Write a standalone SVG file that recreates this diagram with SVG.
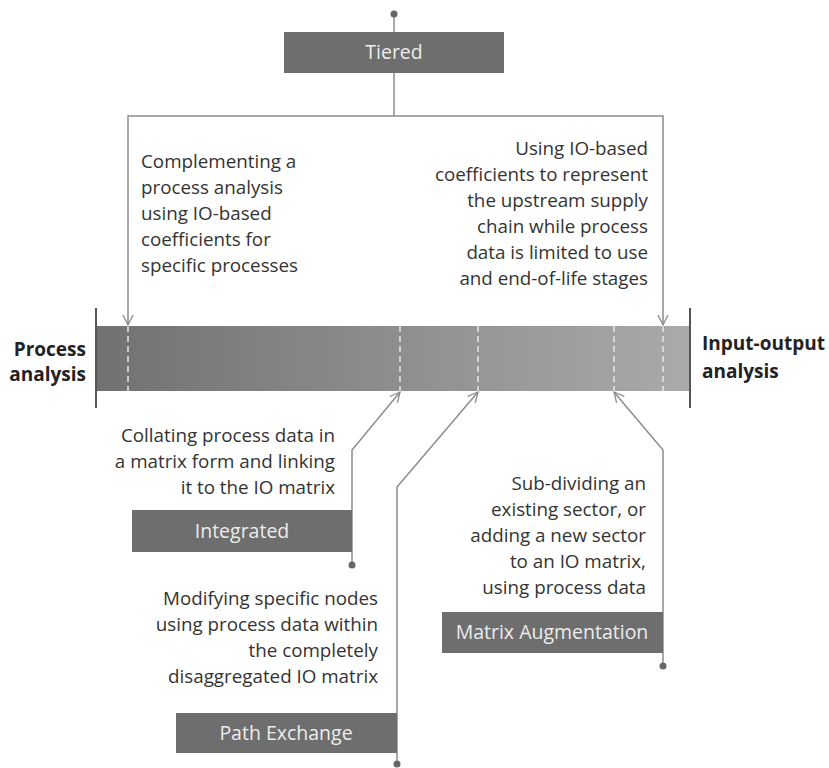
<svg xmlns="http://www.w3.org/2000/svg" width="829" height="768" viewBox="0 0 829 768">
<defs>
<linearGradient id="barg" x1="0" y1="0" x2="1" y2="0">
<stop offset="0" stop-color="#717171"/>
<stop offset="1" stop-color="#aaaaaa"/>
</linearGradient>
<marker id="ah" viewBox="0 0 12 12" refX="11" refY="6" markerWidth="12" markerHeight="12" markerUnits="userSpaceOnUse" orient="auto">
<path d="M1,1 L11,6 L1,11" fill="none" stroke="#8c8c8c" stroke-width="1.3"/>
</marker>
<style>
.conn{fill:none;stroke:#8c8c8c;stroke-width:1.5}
.dot{fill:#666}
.box{fill:#6e6e6e}
.lbl{font-family:"Open Sans","Liberation Sans",sans-serif;font-size:19.5px;fill:#ececec;text-anchor:middle}
.desc{font-family:"Open Sans","Liberation Sans",sans-serif;font-size:18.8px;fill:#333}
.end{text-anchor:end}
.big{font-family:"Open Sans","Liberation Sans",sans-serif;font-size:19px;font-weight:bold;fill:#222}
.dash{stroke:#e6e6e6;stroke-width:1.5;stroke-dasharray:6,4}
.edge{stroke:#555;stroke-width:2}
</style>
</defs>
<rect width="829" height="768" fill="#fff"/>
<g id="bar">
<rect x="96" y="326" width="594" height="65" fill="url(#barg)"/>
<line class="dash" x1="128" y1="326" x2="128" y2="391"/>
<line class="dash" x1="400" y1="326" x2="400" y2="391"/>
<line class="dash" x1="478" y1="326" x2="478" y2="391"/>
<line class="dash" x1="614" y1="326" x2="614" y2="391"/>
<line class="dash" x1="663" y1="326" x2="663" y2="391"/>
<line class="edge" x1="96" y1="308" x2="96" y2="408"/>
<line class="edge" x1="690" y1="308" x2="690" y2="408"/>
</g>
<g id="connectors">
<line class="conn" x1="394" y1="14" x2="394" y2="116"/>
<polyline class="conn" points="394,116 128,116 128,325" marker-end="url(#ah)"/>
<polyline class="conn" points="394,116 663,116 663,325" marker-end="url(#ah)"/>
<polyline class="conn" points="352,565 352,450 400,392" marker-end="url(#ah)"/>
<polyline class="conn" points="397,762 397,487 478,392" marker-end="url(#ah)"/>
<polyline class="conn" points="663,666 663,450 614,392" marker-end="url(#ah)"/>
<circle class="dot" cx="394" cy="14" r="3.5"/>
<circle class="dot" cx="352" cy="565" r="3.5"/>
<circle class="dot" cx="397" cy="764" r="3.5"/>
<circle class="dot" cx="663" cy="666" r="3.5"/>
</g>
<g id="process-analysis">
<text class="big end" x="86" y="356">Process</text>
<text class="big end" x="86" y="381">analysis</text>
</g>
<g id="io-analysis">
<text class="big" x="702" y="350">Input-output</text>
<text class="big" x="702" y="378">analysis</text>
</g>
<g id="tiered">
<rect class="box" x="284" y="32" width="220" height="41"/>
<text class="lbl" x="394" y="59">Tiered</text>
</g>
<g id="tiered-left-desc">
<text class="desc" x="141" y="168">Complementing a</text>
<text class="desc" x="141" y="194">process analysis</text>
<text class="desc" x="141" y="220">using IO-based</text>
<text class="desc" x="141" y="246">coefficients for</text>
<text class="desc" x="141" y="272">specific processes</text>
</g>
<g id="tiered-right-desc">
<text class="desc end" x="648" y="155">Using IO-based</text>
<text class="desc end" x="648" y="181">coefficients to represent</text>
<text class="desc end" x="648" y="207">the upstream supply</text>
<text class="desc end" x="648" y="233">chain while process</text>
<text class="desc end" x="648" y="259">data is limited to use</text>
<text class="desc end" x="648" y="285">and end-of-life stages</text>
</g>
<g id="integrated">
<text class="desc end" x="335" y="442">Collating process data in</text>
<text class="desc end" x="335" y="468">a matrix form and linking</text>
<text class="desc end" x="335" y="494">it to the IO matrix</text>
<rect class="box" x="132" y="510" width="220" height="42"/>
<text class="lbl" x="242" y="538">Integrated</text>
</g>
<g id="path-exchange">
<text class="desc end" x="378" y="605">Modifying specific nodes</text>
<text class="desc end" x="378" y="631">using process data within</text>
<text class="desc end" x="378" y="657">the completely</text>
<text class="desc end" x="378" y="683">disaggregated IO matrix</text>
<rect class="box" x="176" y="713" width="221" height="40"/>
<text class="lbl" x="286" y="740">Path Exchange</text>
</g>
<g id="matrix-augmentation">
<text class="desc end" x="646" y="490">Sub-dividing an</text>
<text class="desc end" x="646" y="516">existing sector, or</text>
<text class="desc end" x="646" y="542">adding a new sector</text>
<text class="desc end" x="646" y="568">to an IO matrix,</text>
<text class="desc end" x="646" y="594">using process data</text>
<rect class="box" x="442" y="612" width="221" height="41"/>
<text class="lbl" x="552" y="639">Matrix Augmentation</text>
</g>
</svg>
